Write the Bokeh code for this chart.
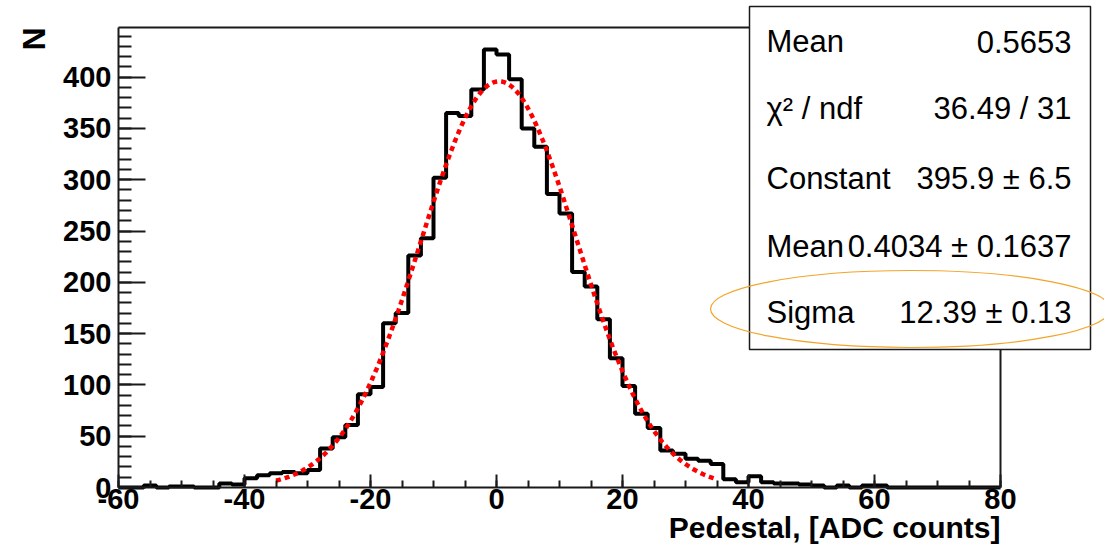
import numpy as np
from bokeh.plotting import figure
from bokeh.models import Label, SingleIntervalTicker, Range1d
from bokeh.embed import file_html
from bokeh.resources import INLINE

# ---------------- data ----------------
bin_start = -60.0
bin_width = 2.0
counts = [0, 0, 2, 0, 1, 1, 0, 0, 4, 3,
          9, 12, 14, 15, 14, 17, 38, 49, 61, 91,
          98, 160, 170, 226, 243, 302, 365, 362, 388, 427,
          422, 398, 350, 332, 286, 267, 210, 196, 164, 126,
          99, 72, 58, 36, 33, 28, 26, 23, 8, 5,
          11, 5, 4, 4, 3, 2, 0, 2, 0, 2,
          2, 0, 0, 0, 0, 0, 0, 0, 0, 0]

fit_constant = 395.9
fit_mean = 0.4034
fit_sigma = 12.39
fit_range = (-35.0, 35.0)

stat_names = ["Mean", "\u03c7\u00b2 / ndf", "Constant", "Mean", "Sigma"]
stat_values = ["0.5653", "36.49 / 31", "395.9 \u00b1 6.5", "0.4034 \u00b1 0.1637", "12.39 \u00b1 0.13"]

x_ticks = [-60, -40, -20, 0, 20, 40, 60, 80]
x_tick_labels = ["-60", "-40", "-20", "0", "20", "40", "60", "80"]
x_title = "Pedestal, [ADC counts]"
y_title = "N"

# ---------------- layout ----------------
W, H = 1104, 547
FL, FBOT = 118, 487          # pixel position of x=-60 and y=0
XMIN, XMAX_AXIS = -60.0, 80.0
PX_PER_X = 6.3
PX_PER_Y = 1.026
Y_AXIS_TOP = 448.3


def dx(px):
    return XMIN + (px - FL) / PX_PER_X


def dy(py):
    return (FBOT - py) / PX_PER_Y


p = figure(width=W, height=H, output_backend="svg", toolbar_location=None,
           x_range=Range1d(dx(0), dx(W)), y_range=Range1d(dy(H), dy(0)),
           min_border_left=0, min_border_right=0, min_border_top=0,
           min_border_bottom=0)
p.outline_line_color = None
p.xgrid.visible = False
p.ygrid.visible = False
p.background_fill_color = "white"
p.border_fill_color = "white"

AX_COL = "#1a1a1a"
for ax in (p.xaxis[0], p.yaxis[0]):
    ax.axis_line_color = AX_COL
    ax.axis_line_width = 2
    ax.major_tick_line_color = AX_COL
    ax.minor_tick_line_color = AX_COL
    ax.major_tick_line_width = 2
    ax.minor_tick_line_width = 2
    ax.major_tick_out = 0
    ax.minor_tick_out = 0
    ax.major_label_text_font = "Liberation Sans"
    ax.major_label_text_font_style = "bold"
    ax.major_label_text_font_size = "29px"
    ax.major_label_text_color = "black"

xa = p.xaxis[0]
xa.fixed_location = 0
xa.ticker = SingleIntervalTicker(interval=20, num_minor_ticks=4)
xa.bounds = (XMIN, XMAX_AXIS)
xa.major_tick_in = 13
xa.minor_tick_in = 7
xa.major_label_standoff = 1
xa.major_label_overrides = {t: s for t, s in zip(x_ticks, x_tick_labels)}

ya = p.yaxis[0]
ya.fixed_location = XMIN
ya.ticker = SingleIntervalTicker(interval=50, num_minor_ticks=5)
ya.bounds = (0, Y_AXIS_TOP)
ya.major_tick_in = 27
ya.minor_tick_in = 13
ya.major_label_standoff = 7

# frame top and right edges
p.line([XMIN, XMAX_AXIS], [Y_AXIS_TOP, Y_AXIS_TOP], line_color=AX_COL, line_width=2)
p.line([XMAX_AXIS, XMAX_AXIS], [0, Y_AXIS_TOP], line_color=AX_COL, line_width=2)

# histogram
counts_arr = np.array(counts, dtype=float)
edges = bin_start + bin_width * np.arange(len(counts_arr) + 1)
p.step(x=edges, y=np.append(counts_arr, counts_arr[-1]), mode="after",
       line_color="black", line_width=4)

# gaussian fit curve drawn from the fit parameters
xf = np.linspace(fit_range[0], fit_range[1], 300)
yf = fit_constant * np.exp(-0.5 * ((xf - fit_mean) / fit_sigma) ** 2)
p.line(xf, yf, line_color="#ff0000", line_width=4.5, line_dash="5 4")

# stats box
p.quad(left=[dx(749)], right=[dx(1090)], top=[dy(6)], bottom=[dy(349)],
       fill_color="white", line_color=AX_COL, line_width=1.5)

# orange ellipse
p.ellipse(x=[dx(910)], y=[dy(308.5)], width=[400 / PX_PER_X], height=[77 / PX_PER_Y],
          fill_color=None, line_color="#f2a52a", line_width=1.2)

baselines = [41, 108, 178, 246, 312]
for name, val, b in zip(stat_names, stat_values, baselines):
    p.add_layout(Label(x=dx(766), y=dy(b), text=name, text_font="Liberation Sans",
                       text_font_size="31px", text_align="left",
                       text_baseline="alphabetic", text_color="black"))
    p.add_layout(Label(x=dx(1071), y=dy(b), text=val, text_font="Liberation Sans",
                       text_font_size="31px", text_align="right",
                       text_baseline="alphabetic", text_color="black"))

# axis titles
p.add_layout(Label(x=XMAX_AXIS, y=dy(527), text=x_title, text_font="Liberation Sans",
                   text_font_style="bold", text_font_size="30px", text_align="right",
                   text_baseline="alphabetic", text_color="black"))
p.add_layout(Label(x=dx(33), y=dy(27), text=y_title, text_font="Liberation Sans",
                   text_font_style="bold", text_font_size="32px", text_align="right",
                   text_baseline="alphabetic", angle=np.pi / 2, text_color="black"))

open("out.html", "w").write(file_html(p, INLINE))
